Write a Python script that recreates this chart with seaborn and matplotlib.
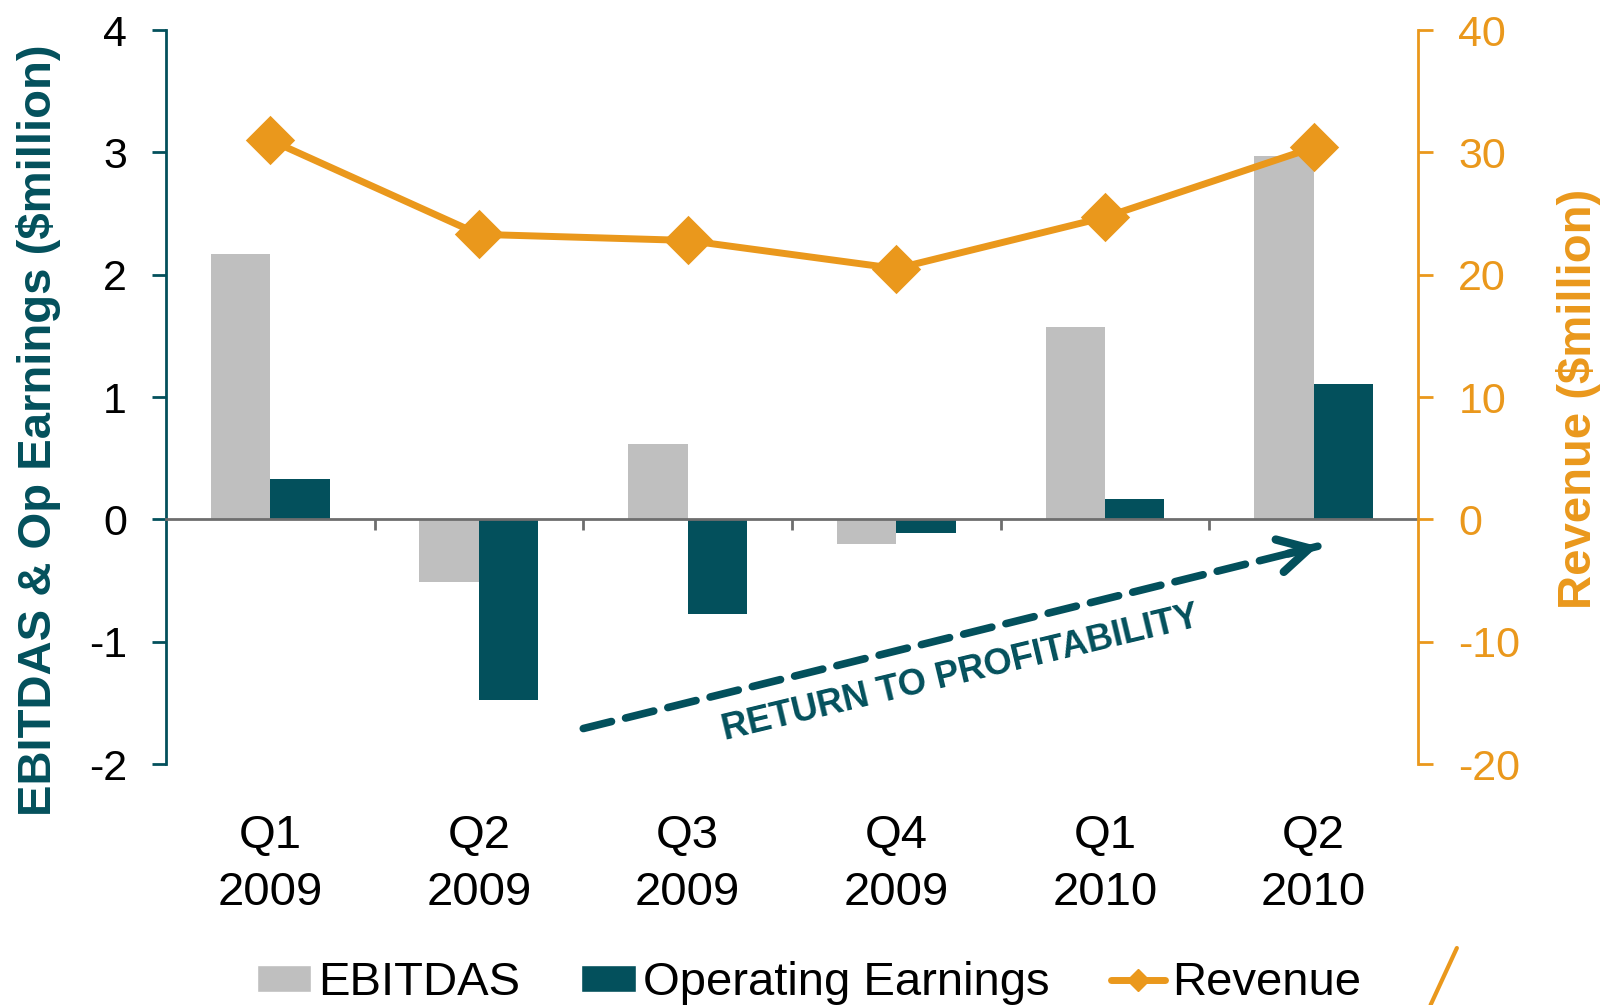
import matplotlib
matplotlib.use('Agg')
import matplotlib.pyplot as plt
import seaborn as sns
import numpy as np
import pandas as pd
from matplotlib.patches import Patch
from matplotlib.lines import Line2D

# data
quarters = ['Q1\n2009', 'Q2\n2009', 'Q3\n2009', 'Q4\n2009', 'Q1\n2010', 'Q2\n2010']
ebitdas = [2.17, -0.51, 0.62, -0.20, 1.57, 2.97]
op_earnings = [0.33, -1.48, -0.77, -0.11, 0.17, 1.11]
revenue = [31.0, 23.3, 22.8, 20.5, 24.7, 30.4]
series_names = ['EBITDAS', 'Operating Earnings', 'Revenue']

GRAY = '#BFBFBF'
TEAL = '#03505C'
ORANGE = '#EA981C'
AXIS_GRAY = '#6E6E6E'

sns.set_style('white')
plt.rcParams['font.family'] = ['Liberation Sans', 'DejaVu Sans']
plt.rcParams['axes.unicode_minus'] = False
plt.rcParams['text.color'] = 'black'

bars_df = pd.DataFrame({
    'quarter': quarters * 2,
    'value': ebitdas + op_earnings,
    'metric': [series_names[0]] * len(quarters) + [series_names[1]] * len(quarters),
})
rev_df = pd.DataFrame({'quarter': quarters, 'revenue': revenue})

fig = plt.figure(figsize=(16.05, 10.05), dpi=100)
ax = fig.add_axes([0.1034, 0.2398, 0.7801, 0.7303])

sns.barplot(data=bars_df, x='quarter', y='value', hue='metric',
            palette=[GRAY, TEAL], width=0.57, linewidth=0, saturation=1,
            legend=False, ax=ax)

ax2 = ax.twinx()
sns.pointplot(data=rev_df, x='quarter', y='revenue', color=ORANGE,
              markers='D', markersize=21, linewidth=5, errorbar=None, ax=ax2)

ax.set_xlim(-0.5, len(quarters) - 0.5)
ax.set_ylim(-2, 4)
ax2.set_ylim(-20, 40)
ax.set_yticks(range(-2, 5))
ax2.set_yticks(range(-20, 41, 10))

# left axis
for s in ['top', 'right', 'bottom']:
    ax.spines[s].set_visible(False)
ax.spines['left'].set_color(TEAL)
ax.spines['left'].set_linewidth(2)
ax.tick_params(axis='y', direction='out', length=10, width=2, color=TEAL,
               labelsize=31, labelcolor='black', pad=18)
ax.set_xticks(range(len(quarters)))
ax.set_xticklabels(quarters, fontsize=34, color='black', linespacing=1.38)
ax.tick_params(axis='x', length=0, pad=36)
ax.set_xlabel('')
ax.set_ylabel('EBITDAS & Op Earnings ($million)', fontsize=34,
              fontweight='bold', color=TEAL)
ax.yaxis.set_label_coords(-0.084, 0.455)

# right axis
for s in ['top', 'left', 'bottom']:
    ax2.spines[s].set_visible(False)
ax2.spines['right'].set_color(ORANGE)
ax2.spines['right'].set_linewidth(2)
ax2.tick_params(axis='y', direction='out', length=11, width=2, color=ORANGE,
                labelsize=31, labelcolor=ORANGE, pad=18)
ax2.set_xlabel('')
ax2.set_ylabel('Revenue ($million)', fontsize=34, fontweight='bold',
               color=ORANGE)
ax2.yaxis.set_label_coords(1.110, 0.497)

# category axis line at zero with ticks between quarters
zero = ax.secondary_xaxis(1 / 3)
for s in zero.spines.values():
    s.set_color(AXIS_GRAY)
    s.set_linewidth(2)
zero.set_xticks(np.arange(len(quarters) - 1) + 0.5)
zero.tick_params(axis='x', direction='out', length=8, width=2,
                 color=AXIS_GRAY, labelbottom=False, labeltop=False)
zero.set_zorder(3)

# "return to profitability" arrow
start = np.array([1.50, -1.71])
tip = np.array([5.02, -0.22])
ax.annotate('', xy=tip, xytext=start,
            arrowprops=dict(arrowstyle='-', lw=5.5, ls=(0, (3.8, 1.9)),
                            color=TEAL, shrinkA=0, shrinkB=0))
ax.annotate('', xy=tip, xytext=tip - 0.04 * (tip - start),
            arrowprops=dict(arrowstyle='->,head_length=1.1,head_width=0.6',
                            mutation_scale=20, lw=6, color=TEAL,
                            shrinkA=0, shrinkB=0, capstyle='round',
                            joinstyle='round'))
ax.text(3.31, -1.26, 'RETURN TO PROFITABILITY', rotation=13.5,
        rotation_mode='anchor', ha='center', va='center', fontsize=26,
        fontweight='bold', color=TEAL)

# legend
handles = [Patch(facecolor=GRAY), Patch(facecolor=TEAL),
           Line2D([], [], color=ORANGE, lw=5, marker='D', markersize=11)]
leg = fig.legend(handles, series_names, loc='center',
                 bbox_to_anchor=(0.504, 0.022), ncol=3, frameon=False,
                 fontsize=34, handlelength=1.15, handleheight=0.5,
                 handletextpad=0.15, columnspacing=1.3)
for t in leg.get_texts():
    t.set_color('black')

# stray orange stroke at the bottom right corner
fig.add_artist(Line2D([0.9077, 0.8913], [0.0567, 0.0], transform=fig.transFigure,
                      color=ORANGE, lw=3))

fig.savefig('out.png', dpi=100)
